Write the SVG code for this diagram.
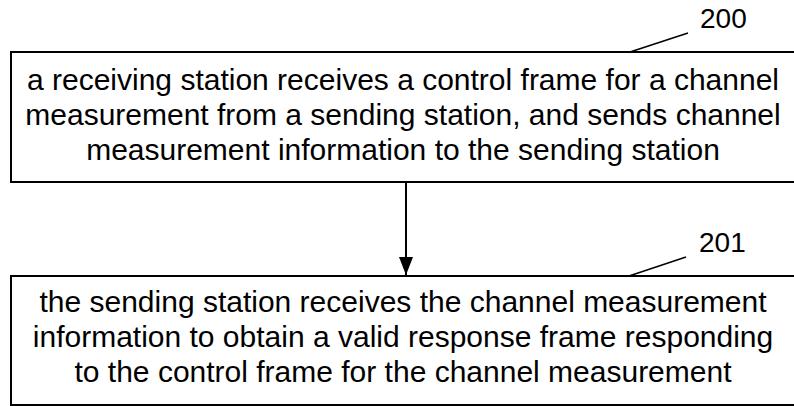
<svg xmlns="http://www.w3.org/2000/svg" width="794" height="406" viewBox="0 0 794 406">
<defs>
<style>
.box{fill:#fff;stroke:#000;stroke-width:2}
.t{font-family:"Liberation Sans",Arial,sans-serif;font-size:30px;fill:#000;text-anchor:middle}
.lbl{font-family:"Liberation Sans",Arial,sans-serif;font-size:28px;fill:#000}
.ln{stroke:#000;stroke-width:2;fill:none}
.ld{stroke:#000;stroke-width:1.5;fill:none}
</style>
<marker id="ah" markerWidth="18" markerHeight="14" refX="18" refY="7" orient="auto" markerUnits="userSpaceOnUse" viewBox="0 0 18 14">
<path d="M0,0 L18,7 L0,14 Z" fill="#000"/>
</marker>
</defs>
<rect width="794" height="406" fill="#fff"/>
<g id="connectors">
<line class="ln" x1="406" y1="182" x2="406" y2="275" marker-end="url(#ah)"/>
<line class="ld" x1="630" y1="52" x2="688" y2="33"/>
<line class="ld" x1="629" y1="276" x2="686" y2="257"/>
</g>
<g id="node200">
<rect class="box" x="11" y="52" width="790" height="130"/>
<text class="t" x="403" y="90">a receiving station receives a control frame for a channel</text>
<text class="t" x="403" y="125">measurement from a sending station, and sends channel</text>
<text class="t" x="403" y="160">measurement information to the sending station</text>
<text class="lbl" x="700" y="28">200</text>
</g>
<g id="node201">
<rect class="box" x="11" y="276" width="790" height="129"/>
<text class="t" x="403" y="312">the sending station receives the channel measurement</text>
<text class="t" x="403" y="347">information to obtain a valid response frame responding</text>
<text class="t" x="403" y="382">to the control frame for the channel measurement</text>
<text class="lbl" x="699" y="252">201</text>
</g>
</svg>
